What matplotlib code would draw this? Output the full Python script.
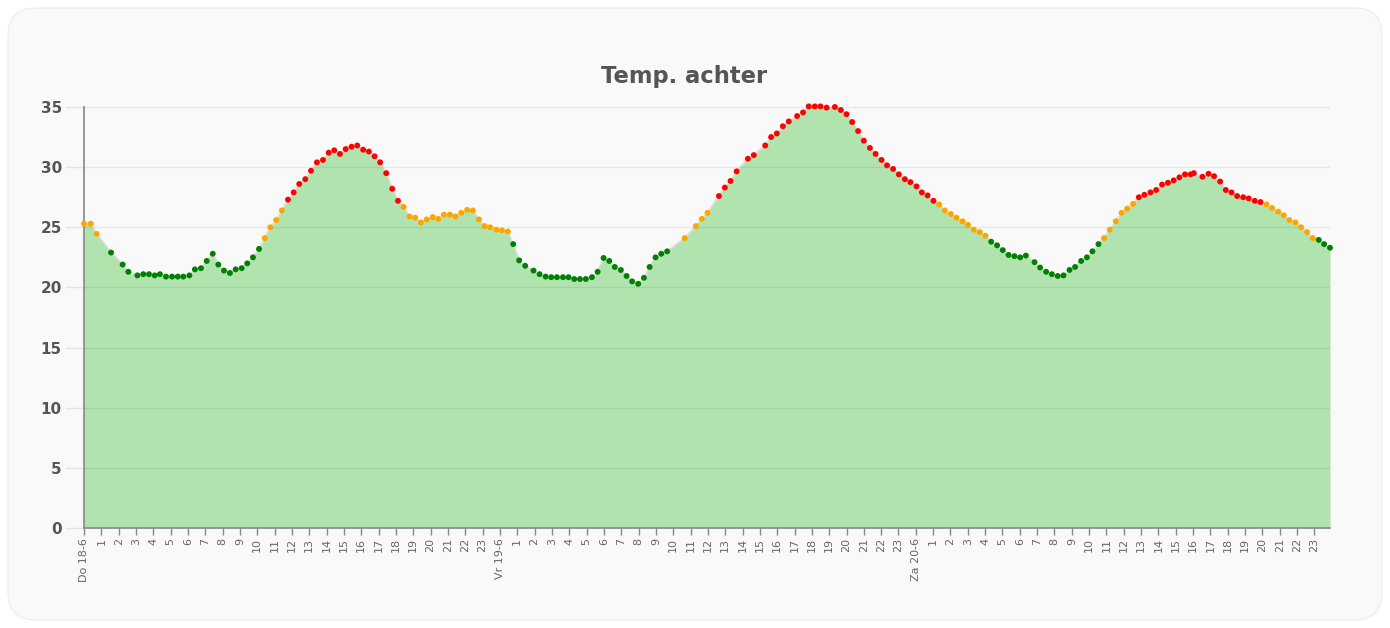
import matplotlib.pyplot as plt
import numpy as np
from matplotlib.patches import FancyBboxPatch

# Data (hours since Do 18-6 00:00, temperature in deg C)
hours = [
    0.00, 0.39, 0.73, 1.56, 2.23, 2.56, 3.08, 3.42, 3.75, 4.08, 4.38, 4.73,
    5.08, 5.41, 5.73, 6.08, 6.40, 6.75, 7.08, 7.43, 7.75, 8.08, 8.42, 8.75,
    9.10, 9.42, 9.75, 10.10, 10.43, 10.75, 11.09, 11.42, 11.77, 12.10, 12.42,
    12.77, 13.10, 13.44, 13.79, 14.12, 14.44, 14.77, 15.10, 15.44, 15.77,
    16.11, 16.44, 16.77, 17.09, 17.44, 17.79, 18.12, 18.44, 18.79, 19.11,
    19.44, 19.77, 20.12, 20.44, 20.77, 21.12, 21.44, 21.77, 22.11, 22.44,
    22.79, 23.12, 23.44, 23.79, 24.12, 24.46, 24.77, 25.11, 25.46, 25.94,
    26.29, 26.64, 26.96, 27.29, 27.64, 27.96, 28.29, 28.62, 28.96, 29.31,
    29.64, 29.98, 30.31, 30.63, 30.98, 31.31, 31.63, 31.98, 32.31, 32.64,
    32.98, 33.31, 33.65, 34.66, 35.31, 35.65, 35.98, 36.64, 36.98, 37.31,
    37.66, 38.31, 38.65, 39.31, 39.65, 39.98, 40.33, 40.67, 41.15, 41.49,
    41.82, 42.17, 42.50, 42.85, 43.33, 43.67, 44.00, 44.33, 44.67, 45.00,
    45.35, 45.68, 46.02, 46.34, 46.69, 47.02, 47.37, 47.69, 48.04, 48.35,
    48.68, 49.02, 49.35, 49.67, 50.02, 50.35, 50.70, 51.02, 51.35, 51.69,
    52.02, 52.35, 52.69, 53.02, 53.35, 53.69, 54.02, 54.35, 54.85, 55.17,
    55.52, 55.85, 56.19, 56.52, 56.87, 57.19, 57.54, 57.87, 58.19, 58.54,
    58.86, 59.19, 59.54, 59.87, 60.19, 60.54, 60.87, 61.19, 61.54, 61.87,
    62.21, 62.55, 62.88, 63.21, 63.53, 63.86, 64.04, 64.54, 64.89, 65.21,
    65.56, 65.89, 66.22, 66.54, 66.89, 67.21, 67.56, 67.89, 68.24, 68.56,
    68.91, 69.23, 69.56, 69.91, 70.23, 70.58, 70.91, 71.25, 71.56, 71.90,
]
temps = [
    25.3, 25.3, 24.45, 22.9, 21.9, 21.3, 21.0, 21.1, 21.1, 21.0, 21.1, 20.9,
    20.9, 20.9, 20.9, 21.0, 21.5, 21.6, 22.2, 22.8, 21.9, 21.4, 21.2, 21.5,
    21.6, 22.0, 22.5, 23.2, 24.1, 25.0, 25.6, 26.4, 27.3, 27.9, 28.6,
    29.0, 29.7, 30.4, 30.6, 31.2, 31.4, 31.1, 31.5, 31.7, 31.8,
    31.45, 31.3, 30.9, 30.4, 29.5, 28.2, 27.2, 26.7, 25.9, 25.8,
    25.4, 25.65, 25.85, 25.7, 26.05, 26.05, 25.9, 26.2, 26.45, 26.4,
    25.65, 25.1, 25.0, 24.8, 24.75, 24.65, 23.6, 22.25, 21.8, 21.4,
    21.1, 20.9, 20.85, 20.85, 20.85, 20.85, 20.7, 20.7, 20.7, 20.85,
    21.3, 22.45, 22.2, 21.7, 21.45, 20.95, 20.5, 20.3, 20.8, 21.7,
    22.5, 22.8, 23.0, 24.1, 25.1, 25.7, 26.2, 27.6, 28.3, 28.85,
    29.65, 30.7, 31.0, 31.8, 32.5, 32.8, 33.4, 33.8, 34.25, 34.55,
    35.05, 35.05, 35.05, 34.95, 35.0, 34.75, 34.4, 33.75, 33.0, 32.2,
    31.6, 31.1, 30.6, 30.15, 29.85, 29.4, 29.0, 28.75, 28.4, 27.9,
    27.65, 27.2, 26.9, 26.4, 26.1, 25.8, 25.5, 25.2, 24.8, 24.6,
    24.3, 23.8, 23.5, 23.1, 22.7, 22.6, 22.5, 22.65, 22.1, 21.65,
    21.3, 21.1, 20.95, 21.0, 21.45, 21.7, 22.2, 22.5, 23.0, 23.6,
    24.1, 24.8, 25.5, 26.2, 26.55, 26.95, 27.5, 27.7, 27.9, 28.1,
    28.55, 28.7, 28.9, 29.15, 29.4, 29.4, 29.5, 29.2, 29.45, 29.25,
    28.8, 28.1, 27.9, 27.6, 27.5, 27.4, 27.2, 27.1, 26.9, 26.6,
    26.3, 26.0, 25.6, 25.4, 25.0, 24.6, 24.1, 23.95, 23.6, 23.3,
]
day_labels = ['Do 18-6', 'Vr 19-6', 'Za 20-6']

hours = np.array(hours)
temps = np.array(temps)

# point colours by temperature band
colors = np.where(temps < 24, '#008000', np.where(temps <= 27, '#FFA500', '#FF0000'))

fig = plt.figure(figsize=(13.9, 6.28), dpi=100)
fig.patch.set_facecolor('white')
card = FancyBboxPatch((8 / 1390, 8 / 628), 1374 / 1390, 612 / 628,
                      boxstyle='round,pad=0,rounding_size=0.02',
                      transform=fig.transFigure, facecolor='#f9f9f9',
                      edgecolor='#eeeeee', linewidth=1, mutation_aspect=1390 / 628,
                      zorder=-10)
fig.patches.append(card)

ax = fig.add_axes([84 / 1390, 100 / 628, 1246 / 1390, 421 / 628])
ax.set_facecolor('#f9f9f9')

ax.fill_between(hours, temps, 0, color='#b0e3ae', linewidth=0, zorder=1)
ax.plot(hours, temps, color='#d6dcd4', linewidth=1.2, zorder=2)
ax.scatter(hours, temps, c=colors, s=18, linewidths=0, zorder=4, clip_on=False)

# grid lines (dark at low alpha, so they show slightly darker on the fill)
for v in range(5, 36, 5):
    ax.axhline(v, color='black', linewidth=1, zorder=3, alpha=0.065)

ax.set_xlim(0, hours[-1])
ax.set_ylim(0, 35)
ax.set_yticks(np.arange(0, 36, 5))

# hourly ticks, with day names at midnight
ticks = np.arange(0, 72)
labels = [day_labels[h // 24] if h % 24 == 0 else str(h % 24) for h in ticks]
ax.set_xticks(ticks)
ax.set_xticklabels(labels, rotation=90, fontsize=8, color='#666666')

for lbl in ax.get_yticklabels():
    lbl.set_fontweight('bold')
ax.tick_params(axis='y', length=14, width=1, color='#e2e2e2', labelsize=11,
               labelcolor='#555555', pad=2)
ax.tick_params(axis='x', length=5, width=1, color='#888888', pad=2)

for side in ['top', 'right']:
    ax.spines[side].set_visible(False)
ax.spines['left'].set_color('#888888')
ax.spines['bottom'].set_color('#888888')
ax.spines['left'].set_linewidth(1.2)
ax.spines['bottom'].set_linewidth(1.2)
ax.spines['bottom'].set_zorder(5)

fig.text(684 / 1390, 1 - 77 / 628, 'Temp. achter', fontsize=16.3, fontweight='bold',
         color='#555555', ha='center', va='center')

fig.savefig('out.png', dpi=100, facecolor=fig.get_facecolor())
